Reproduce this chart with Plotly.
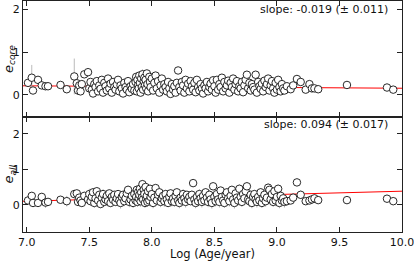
import plotly.graph_objects as go
from plotly.subplots import make_subplots

log_age = [
    7.01, 7.04, 7.05, 7.09, 7.12, 7.15, 7.17, 7.27, 7.32, 7.38,
    7.40, 7.41, 7.42, 7.43, 7.44, 7.46, 7.49, 7.50, 7.51, 7.52,
    7.53, 7.54, 7.55, 7.56, 7.57, 7.58, 7.59, 7.60, 7.61, 7.62,
    7.63, 7.64, 7.65, 7.66, 7.67, 7.68, 7.69, 7.70, 7.71, 7.72,
    7.73, 7.74, 7.75, 7.76, 7.77, 7.78, 7.79, 7.80, 7.81, 7.82,
    7.83, 7.84, 7.85, 7.86, 7.87, 7.875, 7.88, 7.885, 7.89, 7.895,
    7.90, 7.905, 7.91, 7.915, 7.92, 7.925, 7.93, 7.935, 7.94, 7.945,
    7.95, 7.955, 7.96, 7.965, 7.97, 7.98, 7.985, 7.99, 8.00, 8.01,
    8.02, 8.03, 8.04, 8.05, 8.06, 8.07, 8.08, 8.09, 8.10, 8.11,
    8.12, 8.13, 8.14, 8.15, 8.16, 8.17, 8.18, 8.19, 8.20, 8.21,
    8.22, 8.23, 8.24, 8.25, 8.26, 8.27, 8.28, 8.29, 8.30, 8.31,
    8.32, 8.33, 8.34, 8.35, 8.36, 8.37, 8.38, 8.39, 8.40, 8.41,
    8.42, 8.43, 8.44, 8.45, 8.46, 8.47, 8.48, 8.49, 8.50, 8.51,
    8.52, 8.53, 8.54, 8.55, 8.56, 8.57, 8.58, 8.59, 8.60, 8.61,
    8.62, 8.63, 8.64, 8.65, 8.66, 8.67, 8.68, 8.69, 8.70, 8.71,
    8.72, 8.73, 8.74, 8.75, 8.76, 8.77, 8.78, 8.79, 8.80, 8.81,
    8.82, 8.83, 8.84, 8.85, 8.86, 8.87, 8.88, 8.89, 8.90, 8.91,
    8.92, 8.93, 8.94, 8.95, 8.96, 8.97, 8.98, 8.99, 9.00, 9.01,
    9.02, 9.03, 9.04, 9.05, 9.06, 9.08, 9.11, 9.13, 9.16, 9.19,
    9.23, 9.26, 9.28, 9.30, 9.33, 9.56, 9.88, 9.93,
]

e_core = [
    0.28, 0.40, 0.10, 0.35, 0.22, 0.20, 0.20, 0.23, 0.13, 0.43,
    0.27, 0.10, 0.22, 0.08, 0.25, 0.48, 0.53, 0.15, 0.30, 0.12,
    0.03, 0.25, 0.18, 0.32, 0.08, 0.22, 0.14, 0.35, 0.05, 0.28,
    0.20, 0.10, 0.38, 0.15, 0.26, 0.05, 0.30, 0.18, 0.12, 0.24,
    0.35, 0.08, 0.22, 0.15, 0.03, 0.28, 0.18, 0.12, 0.32, 0.06,
    0.20, 0.14, 0.25, 0.10, 0.30, 0.42, 0.08, 0.35, 0.22, 0.15,
    0.45, 0.28, 0.05, 0.38, 0.18, 0.48, 0.12, 0.32, 0.40, 0.22,
    0.35, 0.15, 0.50, 0.25, 0.08, 0.42, 0.30, 0.18, 0.38, 0.10,
    0.28, 0.45, 0.15, 0.32, 0.05, 0.22, 0.38, 0.12, 0.25, 0.18,
    0.08, 0.30, 0.15, 0.02, 0.25, 0.12, 0.20, 0.05, 0.28, 0.57,
    0.18, 0.10, 0.30, 0.22, 0.05, 0.35, 0.15, 0.26, 0.08, 0.32,
    0.20, 0.12, 0.28, 0.06, 0.35, 0.18, 0.10, 0.25, 0.15, 0.03,
    0.22, 0.15, 0.30, 0.08, 0.18, 0.26, 0.12, 0.34, 0.20, 0.05,
    0.35, 0.12, 0.25, 0.18, 0.40, 0.08, 0.30, 0.15, 0.22, 0.33,
    0.05, 0.28, 0.18, 0.38, 0.12, 0.25, 0.32, 0.08, 0.20, 0.15,
    0.30, 0.06, 0.22, 0.35, 0.47, 0.15, 0.28, 0.10, 0.25, 0.18,
    0.12, 0.47, 0.05, 0.30, 0.20, 0.14, 0.26, 0.08, 0.33, 0.18,
    0.25, 0.38, 0.10, 0.22, 0.32, 0.15, 0.05, 0.28, 0.12, 0.35,
    0.18, 0.08, 0.25, 0.15, 0.10, 0.20, 0.13, 0.22, 0.37, 0.30,
    0.12, 0.25, 0.15, 0.15, 0.13, 0.23, 0.17, 0.12,
]

e_all = [
    0.12, 0.25, 0.05, 0.05, 0.22, 0.06, 0.08, 0.14, 0.10, 0.30,
    0.32, 0.08, 0.20, 0.12, 0.05, 0.25, 0.15, 0.30, 0.10, 0.22,
    0.35, 0.05, 0.18, 0.38, 0.12, 0.28, 0.02, 0.20, 0.30, 0.08,
    0.15, 0.25, 0.10, 0.32, 0.05, 0.22, 0.14, 0.28, 0.08, 0.18,
    0.30, 0.12, 0.05, 0.22, 0.28, 0.10, 0.18, 0.32, 0.42, 0.08,
    0.15, 0.25, 0.05, 0.30, 0.12, 0.22, 0.42, 0.08, 0.35, 0.18,
    0.28, 0.45, 0.10, 0.35, 0.20, 0.58, 0.15, 0.42, 0.30, 0.05,
    0.50, 0.18, 0.25, 0.08, 0.38, 0.12, 0.45, 0.22, 0.30, 0.05,
    0.20, 0.47, 0.12, 0.28, 0.35, 0.08, 0.18, 0.25, 0.10, 0.30,
    0.15, 0.05, 0.22, 0.32, 0.10, 0.18, 0.08, 0.25, 0.35, 0.12,
    0.05, 0.20, 0.12, 0.30, 0.18, 0.08, 0.28, 0.15, 0.22, 0.10,
    0.28, 0.61, 0.15, 0.05, 0.22, 0.10, 0.30, 0.18, 0.08, 0.25,
    0.12, 0.35, 0.20, 0.08, 0.28, 0.15, 0.05, 0.52, 0.22, 0.10,
    0.30, 0.15, 0.08, 0.40, 0.22, 0.12, 0.05, 0.28, 0.35, 0.18,
    0.10, 0.25, 0.42, 0.15, 0.05, 0.32, 0.20, 0.12, 0.45, 0.22,
    0.08, 0.30, 0.18, 0.38, 0.52, 0.15, 0.10, 0.28, 0.05, 0.22,
    0.30, 0.15, 0.08, 0.22, 0.12, 0.35, 0.05, 0.18, 0.28, 0.10,
    0.20, 0.48, 0.42, 0.15, 0.30, 0.08, 0.38, 0.12, 0.22, 0.45,
    0.05, 0.25, 0.12, 0.18, 0.08, 0.10, 0.12, 0.20, 0.63, 0.28,
    0.10, 0.12, 0.15, 0.18, 0.13, 0.13, 0.17, 0.10,
]

err_core = [
    0.05, 0.30, 0.05, 0.06, 0.05, 0.04, 0.04, 0.05, 0.05, 0.42,
    0.05, 0.04, 0.05, 0.04, 0.05, 0.06, 0.06, 0.05, 0.05, 0.04,
    0.04, 0.05, 0.05, 0.06, 0.04, 0.05, 0.04, 0.06, 0.04, 0.05,
    0.05, 0.04, 0.06, 0.05, 0.05, 0.04, 0.06, 0.05, 0.04, 0.05,
    0.06, 0.04, 0.05, 0.05, 0.04, 0.05, 0.05, 0.04, 0.06, 0.04,
    0.05, 0.04, 0.05, 0.04, 0.06, 0.07, 0.04, 0.06, 0.05, 0.04,
    0.08, 0.05, 0.04, 0.06, 0.05, 0.12, 0.04, 0.06, 0.07, 0.05,
    0.06, 0.04, 0.08, 0.05, 0.04, 0.07, 0.05, 0.05, 0.06, 0.04,
    0.05, 0.07, 0.04, 0.06, 0.04, 0.05, 0.06, 0.04, 0.05, 0.05,
    0.04, 0.05, 0.04, 0.04, 0.05, 0.04, 0.05, 0.04, 0.05, 0.07,
    0.05, 0.04, 0.05, 0.05, 0.04, 0.06, 0.04, 0.05, 0.04, 0.06,
    0.05, 0.04, 0.05, 0.04, 0.06, 0.05, 0.04, 0.05, 0.04, 0.04,
    0.05, 0.04, 0.05, 0.04, 0.05, 0.05, 0.04, 0.06, 0.05, 0.04,
    0.06, 0.04, 0.05, 0.05, 0.07, 0.04, 0.05, 0.04, 0.05, 0.06,
    0.04, 0.05, 0.05, 0.06, 0.04, 0.05, 0.06, 0.04, 0.05, 0.04,
    0.05, 0.04, 0.05, 0.06, 0.07, 0.04, 0.05, 0.04, 0.05, 0.05,
    0.04, 0.07, 0.04, 0.05, 0.05, 0.04, 0.05, 0.04, 0.06, 0.05,
    0.05, 0.06, 0.04, 0.05, 0.06, 0.04, 0.04, 0.05, 0.04, 0.06,
    0.05, 0.04, 0.05, 0.04, 0.04, 0.05, 0.04, 0.05, 0.06, 0.05,
    0.04, 0.05, 0.04, 0.04, 0.04, 0.05, 0.04, 0.04,
]

err_all = [
    0.08, 0.10, 0.12, 0.08, 0.10, 0.15, 0.10, 0.08, 0.15, 0.12,
    0.10, 0.12, 0.08, 0.15, 0.10, 0.12, 0.10, 0.15, 0.12, 0.08,
    0.10, 0.14, 0.12, 0.10, 0.16, 0.08, 0.12, 0.10, 0.14, 0.12,
    0.12, 0.10, 0.15, 0.08, 0.12, 0.10, 0.14, 0.10, 0.12, 0.15,
    0.10, 0.12, 0.16, 0.10, 0.08, 0.14, 0.12, 0.10, 0.12, 0.15,
    0.12, 0.10, 0.14, 0.12, 0.16, 0.10, 0.12, 0.14, 0.10, 0.12,
    0.14, 0.12, 0.16, 0.10, 0.15, 0.12, 0.18, 0.12, 0.10, 0.14,
    0.12, 0.15, 0.10, 0.14, 0.12, 0.16, 0.10, 0.12, 0.14, 0.15,
    0.12, 0.10, 0.14, 0.12, 0.10, 0.15, 0.12, 0.10, 0.16, 0.12,
    0.14, 0.12, 0.10, 0.12, 0.15, 0.10, 0.14, 0.12, 0.10, 0.12,
    0.15, 0.12, 0.10, 0.14, 0.12, 0.16, 0.10, 0.12, 0.14, 0.10,
    0.12, 0.10, 0.14, 0.15, 0.12, 0.10, 0.14, 0.12, 0.16, 0.10,
    0.14, 0.12, 0.10, 0.15, 0.12, 0.14, 0.16, 0.10, 0.12, 0.15,
    0.12, 0.14, 0.16, 0.10, 0.12, 0.15, 0.14, 0.12, 0.10, 0.12,
    0.15, 0.12, 0.10, 0.14, 0.16, 0.12, 0.10, 0.14, 0.12, 0.10,
    0.14, 0.12, 0.15, 0.10, 0.12, 0.14, 0.16, 0.12, 0.15, 0.10,
    0.12, 0.14, 0.16, 0.10, 0.15, 0.12, 0.14, 0.12, 0.10, 0.16,
    0.14, 0.12, 0.10, 0.15, 0.12, 0.14, 0.10, 0.16, 0.18, 0.12,
    0.15, 0.12, 0.14, 0.10, 0.16, 0.12, 0.10, 0.12, 0.10, 0.12,
    0.10, 0.08, 0.10, 0.08, 0.08, 0.06, 0.06, 0.06,
]

fit_x = [6.97, 10.0]
core_slope, core_err, core_intercept = -0.019, 0.011, 0.343
all_slope, all_err, all_intercept = 0.094, 0.017, -0.558

x_range = [6.97, 10.0]
x_ticks = [7.0, 7.5, 8.0, 8.5, 9.0, 9.5, 10.0]
x_ticklabels = ["7.0", "7.5", "8.0", "8.5", "9.0", "9.5", "10.0"]
core_range = [-0.51, 2.2]
all_range = [-0.77, 2.49]
y_ticks = [0, 1, 2]
y_ticklabels = ["0", "1", "2"]

FONT = "DejaVu Sans"
AX = "#222222"
TXT = "#111111"

fig = make_subplots(rows=2, cols=1, shared_xaxes=True, vertical_spacing=0)

panels = [
    (1, e_core, err_core, core_slope, core_intercept),
    (2, e_all, err_all, all_slope, all_intercept),
]
for row, ys, errs, slope, icpt in panels:
    fig.add_trace(go.Scatter(
        x=fit_x, y=[icpt + slope * v for v in fit_x], mode="lines",
        line=dict(color="#ff0000", width=1), showlegend=False, hoverinfo="skip",
    ), row=row, col=1)
    fig.add_trace(go.Scatter(
        x=log_age, y=ys, mode="markers",
        marker=dict(size=7.5, color="white", line=dict(color=TXT, width=0.9)),
        error_y=dict(type="data", array=errs, visible=True, color="#bbbbbb",
                     thickness=1, width=0),
        showlegend=False,
    ), row=row, col=1)

axis_common = dict(showline=True, linecolor=AX, linewidth=1, mirror="ticks",
                   ticks="inside", ticklen=5, tickcolor=AX, tickwidth=1,
                   showgrid=False, zeroline=False, automargin=False,
                   ticklabeloverflow="allow",
                   tickfont=dict(family=FONT, size=11, color=TXT))

fig.update_xaxes(range=x_range, tickmode="array", tickvals=x_ticks, ticktext=x_ticklabels,
                 **axis_common)
fig.update_xaxes(showticklabels=False, row=1, col=1)
fig.update_xaxes(title=dict(text="Log (Age/year)", font=dict(family=FONT, size=11.5, color=TXT),
                            standoff=5), row=2, col=1)
fig.update_yaxes(tickmode="array", tickvals=y_ticks, ticktext=y_ticklabels, **axis_common)
fig.update_yaxes(range=core_range, row=1, col=1)
fig.update_yaxes(range=all_range, row=2, col=1)

fig.add_annotation(xref="paper", yref="paper", x=-0.036, y=0.75, xanchor="center", yanchor="middle",
                   text="<i>e</i><sub><i>core</i></sub>", textangle=-90, showarrow=False,
                   font=dict(family=FONT, size=13, color=TXT))
fig.add_annotation(xref="paper", yref="paper", x=-0.036, y=0.25, xanchor="center", yanchor="middle",
                   text="<i>e</i><sub><i>all</i></sub>", textangle=-90, showarrow=False,
                   font=dict(family=FONT, size=13, color=TXT))
fig.add_annotation(xref="paper", yref="paper", x=0.969, y=0.962, xanchor="right", yanchor="middle",
                   text="slope: %.3f (± %.3f)" % (core_slope, core_err), showarrow=False,
                   font=dict(family=FONT, size=11, color=TXT))
fig.add_annotation(xref="paper", yref="paper", x=0.969, y=0.465, xanchor="right", yanchor="middle",
                   text="slope: %.3f (± %.3f)" % (all_slope, all_err), showarrow=False,
                   font=dict(family=FONT, size=11, color=TXT))

fig.update_layout(width=414, height=261, margin=dict(l=23, r=12, t=1, b=29),
                  paper_bgcolor="white", plot_bgcolor="white",
                  font=dict(family=FONT, size=11, color=TXT))

fig.write_html("out.html", config={"displayModeBar": False},
               post_script="document.body.style.margin='0';document.body.style.overflow='hidden';")
